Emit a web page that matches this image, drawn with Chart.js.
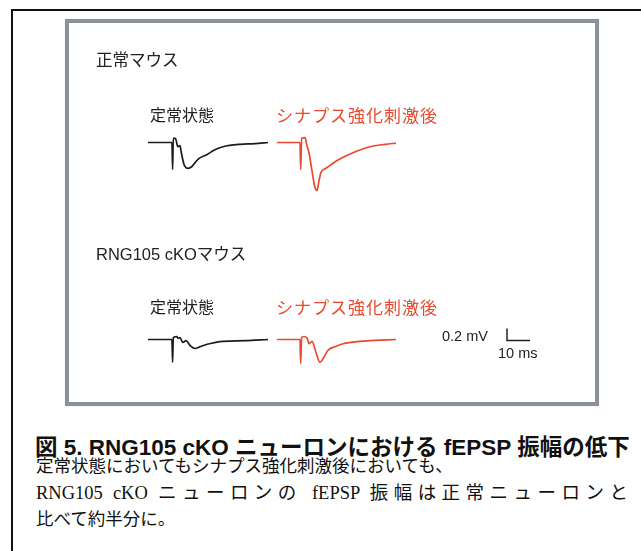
<!DOCTYPE html>
<html lang="ja">
<head>
<meta charset="utf-8">
<script src="https://cdn.jsdelivr.net/npm/chart.js@4"></script>
<style>
  html, body { margin: 0; padding: 0; background: #fff; }
  #page { position: relative; width: 641px; height: 551px; overflow: hidden; background: #fff; }
  #frame { position: absolute; left: 11px; top: 9px; right: -10px; bottom: -10px;
           border-left: 2px solid #111; border-top: 2.5px solid #111; }
  #panel { position: absolute; left: 65px; top: 19px; width: 526px; height: 379px;
           border: 4px solid #8b9198; box-shadow: 0 0 1px #c9cdd1; }
  #traces { position: absolute; left: 0; top: 0; }
  .lbl { position: absolute; white-space: nowrap; line-height: 1;
         font-family: "Liberation Sans", "Noto Sans CJK JP", sans-serif; font-size: 16px; color: #222; }
  .big { font-size: 16.5px; }
  .red { color: #e84a2f; font-size: 17px; letter-spacing: 1px; }
  .sb  { font-size: 14.5px; }
  #title { position: absolute; left: 35px; top: 437px; white-space: nowrap; line-height: 1;
           font-family: "Liberation Sans", "Noto Sans CJK JP", sans-serif; font-weight: bold;
           font-size: 22.5px; color: #111; }
  .cap { position: absolute; left: 36px; width: 592px; white-space: nowrap; line-height: 1;
         font-family: "Liberation Serif", "Noto Sans CJK JP", serif; font-size: 17.5px; color: #111; }
  .cap .lat { font-size: 18.5px; }
  .just { text-align: justify; text-align-last: justify; font-size: 18.5px; }
</style>
</head>
<body>
<div id="page">
  <div id="frame"></div>
  <div id="panel"></div>
  <canvas id="traces" width="641" height="420"></canvas>

  <div class="lbl big" style="left:96px; top:52px;">正常マウス</div>
  <div class="lbl" style="left:150px; top:108px;">定常状態</div>
  <div class="lbl red" style="left:276px; top:108px;">シナプス強化刺激後</div>

  <div class="lbl big" style="left:96px; top:246px;">RNG105 cKOマウス</div>
  <div class="lbl" style="left:150px; top:300px;">定常状態</div>
  <div class="lbl red" style="left:276px; top:300px;">シナプス強化刺激後</div>

  <div class="lbl sb" style="left:442px; top:329px;">0.2 mV</div>
  <div class="lbl sb" style="left:498px; top:346px;">10 ms</div>

  <div id="title">図 5. RNG105 cKO ニューロンにおける fEPSP 振幅の低下</div>
  <div class="cap" style="top:458px;">定常状態においてもシナプス強化刺激後においても、</div>
  <div class="cap just" style="top:484px;"><span class="lat">RNG105 cKO </span>ニューロンの<span class="lat"> fEPSP </span>振幅は正常ニューロンと</div>
  <div class="cap" style="top:511px;">比べて約半分に。</div>
</div>

<script>
// fEPSP recordings: time (ms) from sweep start, field potential (mV)
const ctrlBaseT = [0, 10.4, 10.7, 11.0, 11.9, 13.0, 13.9, 14.4, 15.7, 17.4, 19.1, 21.7, 25.7, 29.1, 32.6, 40.0, 46.5, 52.2];
const ctrlBaseV = [0, 0, -0.45, 0.07, 0.07, -0.07, -0.05, -0.15, -0.37, -0.43, -0.40, -0.28, -0.20, -0.12, -0.07, -0.03, -0.02, 0];

const ctrlPostT = [0, 10.0, 10.3, 10.7, 12.2, 13.0, 13.9, 15.2, 16.5, 17.4, 18.3, 19.1, 21.3, 26.1, 33.0, 40.4, 47.0, 51.7];
const ctrlPostV = [0, 0, -0.45, 0.07, 0.08, -0.05, -0.17, -0.47, -0.75, -0.80, -0.63, -0.50, -0.43, -0.30, -0.17, -0.07, -0.03, -0.01];

const ckoBaseT = [0, 10.4, 10.7, 11.0, 12.6, 13.0, 13.9, 15.2, 16.5, 18.3, 20.4, 22.6, 25.7, 32.6, 42.2, 52.2];
const ckoBaseV = [0, 0, -0.38, 0.03, 0.05, 0.02, 0.03, -0.05, -0.02, -0.10, -0.15, -0.12, -0.08, -0.03, -0.02, 0];

const ckoPostT = [0, 10.0, 10.3, 10.7, 11.7, 13.0, 13.9, 15.2, 17.0, 18.7, 20.0, 22.2, 25.2, 28.7, 36.1, 40.4, 51.7];
const ckoPostV = [0, 0, -0.40, 0.03, 0.05, 0.03, -0.07, -0.03, -0.22, -0.38, -0.32, -0.18, -0.12, -0.07, -0.03, -0.02, 0];

// scale bar lengths
const scaleBarMs = 10;
const scaleBarMv = 0.2;

// drawing geometry (pixels per unit, sweep placement)
const PX_PER_MS = 2.3;
const PX_PER_MV = 60;
const W = 641, H = 420;
const sweepLeftPx = 148;               // left edge of the first sweep column
const postShiftMs = 129 / PX_PER_MS;   // second column (post-stimulation) offset
const row1Px = 142.5, row2Px = 339.5;  // baselines of the two rows
const xMin = -sweepLeftPx / PX_PER_MS, xMax = xMin + W / PX_PER_MS;
const yMax = row1Px / PX_PER_MV, yMin = yMax - H / PX_PER_MV;
const row2Mv = -(row2Px - row1Px) / PX_PER_MV;
const scaleBarAt = { x: (507 - sweepLeftPx) / PX_PER_MS, y: yMax - 340.5 / PX_PER_MV };

const BLACK = '#1c1c1c', RED = '#e84a2f';

function sweep(t, v, dx, dy, color) {
  return {
    data: t.map((ti, i) => ({ x: ti + dx, y: v[i] + dy })),
    borderColor: color,
    borderWidth: 1.7,
    pointRadius: 0,
    fill: false,
    cubicInterpolationMode: 'monotone'
  };
}

const scaleBarPlugin = {
  id: 'scaleBar',
  afterDatasetsDraw(chart) {
    const { ctx, scales: { x, y } } = chart;
    const x0 = x.getPixelForValue(scaleBarAt.x);
    const y0 = y.getPixelForValue(scaleBarAt.y);
    const x1 = x.getPixelForValue(scaleBarAt.x + scaleBarMs);
    const y1 = y.getPixelForValue(scaleBarAt.y + scaleBarMv);
    ctx.save();
    ctx.strokeStyle = '#222';
    ctx.lineWidth = 1.5;
    ctx.beginPath();
    ctx.moveTo(x0, y1);
    ctx.lineTo(x0, y0);
    ctx.lineTo(x1, y0);
    ctx.stroke();
    ctx.restore();
  }
};

new Chart(document.getElementById('traces'), {
  type: 'line',
  data: {
    datasets: [
      sweep(ctrlBaseT, ctrlBaseV, 0, 0, BLACK),
      sweep(ctrlPostT, ctrlPostV, postShiftMs, 0, RED),
      sweep(ckoBaseT, ckoBaseV, 0, row2Mv, BLACK),
      sweep(ckoPostT, ckoPostV, postShiftMs, row2Mv, RED)
    ]
  },
  options: {
    responsive: false,
    animation: false,
    devicePixelRatio: 1,
    layout: { padding: 0 },
    plugins: { legend: { display: false }, tooltip: { enabled: false } },
    scales: {
      x: { type: 'linear', min: xMin, max: xMax, display: false },
      y: { type: 'linear', min: yMin, max: yMax, display: false }
    }
  },
  plugins: [scaleBarPlugin]
});
</script>
</body>
</html>
